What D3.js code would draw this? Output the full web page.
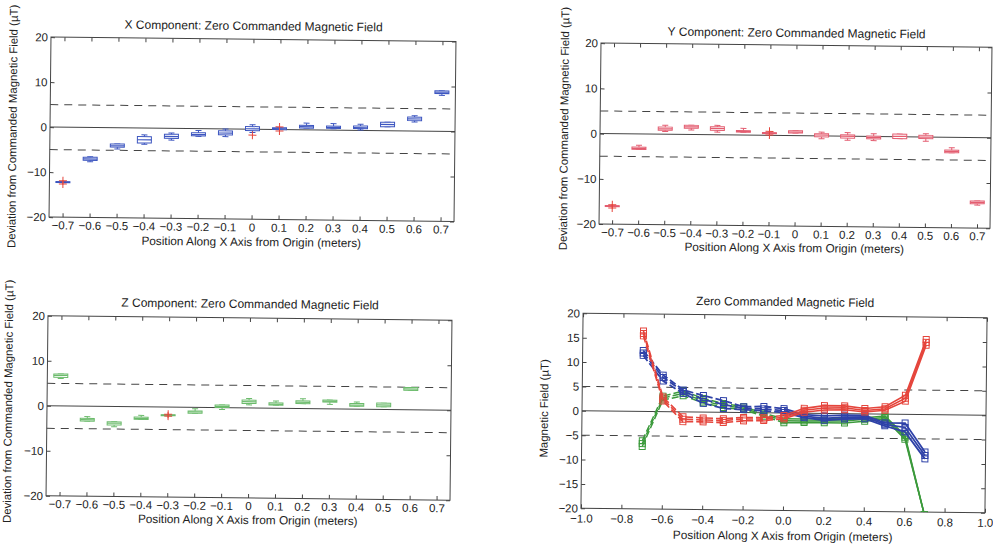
<!DOCTYPE html>
<html>
<head>
<meta charset="utf-8">
<script src="https://cdn.jsdelivr.net/npm/d3@7"></script>
<style>
  body { margin: 0; background: #fff; }
  text { font-family: "Liberation Sans", Arial, Helvetica, sans-serif; fill: #222; }
</style>
</head>
<body>
<div id="container"></div>
<script>
/* CONSTANTS AND GLOBALS */
const width = 993;
const height = 544;
const tilt = 0.62; // the scanned page is slightly rotated

/* DATA */
const positions = [-0.7, -0.6, -0.5, -0.4, -0.3, -0.2, -0.1, 0, 0.1, 0.2, 0.3, 0.4, 0.5, 0.6, 0.7];
const tickLabels = ["−0.7", "−0.6", "−0.5", "−0.4", "−0.3", "−0.2", "−0.1", "0", "0.1", "0.2", "0.3", "0.4", "0.5", "0.6", "0.7"];
const devTicks = [-20, -10, 0, 10, 20];
const limitLines = [-5, 5];

// X component deviation box stats
const xMed = [-12.2, -7.0, -4.0, -2.6, -1.8, -1.3, -0.9, 0.1, 0.2, 0.7, 0.6, 0.6, 1.4, 2.7, 8.7];
const xQ1  = [-12.3, -7.3, -4.3, -3.3, -2.2, -1.6, -1.3, -0.3, 0.0, 0.4, 0.4, 0.4, 0.9, 2.3, 8.4];
const xQ3  = [-12.1, -6.6, -3.6, -1.9, -1.3, -0.9, -0.4, 0.6, 0.4, 1.0, 0.9, 1.0, 1.9, 3.1, 9.0];
const xLo  = [-12.3, -7.6, -4.7, -3.6, -2.6, -1.7, -1.7, -0.7, 0.0, 0.4, 0.3, 0.1, 0.9, 2.0, 8.0];
const xHi  = [-12.1, -6.5, -3.6, -1.5, -1.0, -0.4, 0.0, 1.0, 0.4, 1.5, 1.45, 1.4, 1.9, 3.4, 9.0];
const xOut = [[-11.9, -12.6], [], [], [], [], [], [], [-1.3], [0.6, -0.3], [], [], [], [], [], []];

// Y component deviation box stats
const yMed = [-16.0, -3.2, 1.2, 1.7, 1.4, 0.8, 0.5, 0.8, 0.2, 0.0, -0.2, 0.1, 0.0, -3.1, -14.3];
const yQ1  = [-16.1, -3.4, 0.9, 1.4, 1.0, 0.65, 0.4, 0.6, -0.2, -0.4, -0.5, -0.4, -0.35, -3.4, -14.6];
const yQ3  = [-15.9, -2.9, 1.6, 2.05, 1.8, 1.0, 0.6, 1.1, 0.5, 0.3, 0.1, 0.6, 0.4, -2.8, -14.0];
const yLo  = [-16.1, -3.4, 0.6, 1.0, 0.6, 0.65, 0.4, 0.6, -0.6, -0.9, -0.9, -0.4, -0.9, -3.4, -14.9];
const yHi  = [-15.9, -2.5, 2.0, 2.05, 2.1, 1.5, 0.6, 1.1, 0.85, 0.8, 0.6, 0.6, 0.75, -2.3, -14.0];
const yOut = [[-15.7, -16.4], [], [], [], [], [], [0.9, 0.1], [], [], [], [], [], [], [], []];

// Z component deviation box stats (0.7 off scale)
const zMed = [6.8, -3.0, -3.7, -2.6, -1.8, -1.0, 0.3, 1.4, 0.9, 1.4, 1.7, 0.9, 1.0, 4.6, null];
const zQ1  = [6.35, -3.3, -4.1, -2.8, -1.9, -1.3, 0.05, 1.0, 0.7, 1.1, 1.5, 0.65, 0.6, 4.3, null];
const zQ3  = [7.1, -2.7, -3.4, -2.3, -1.7, -0.8, 0.6, 1.75, 1.2, 1.7, 1.95, 1.25, 1.4, 4.95, null];
const zLo  = [6.1, -3.3, -4.5, -2.8, -1.9, -1.3, -0.4, 0.7, 0.7, 1.1, 1.0, 0.65, 0.6, 4.3, null];
const zHi  = [7.1, -2.3, -3.4, -1.9, -1.7, -0.3, 0.6, 2.1, 1.6, 2.2, 1.95, 1.6, 1.4, 4.95, null];
const zOut = [[], [], [], [], [-1.6, -2.0], [], [], [], [], [], [], [], [], [], []];

// Measured field, three trials per component
const fieldX = [
  [12.5, 7.5, 4.5, 3.4, 2.4, 1.2, 1.3, 0.9, -0.3, -0.5, -0.3, -0.3, -1.8, -1.8, -7.7],
  [12.0, 7.0, 4.2, 2.6, 1.6, 0.9, 0.8, 0.5, -0.6, -1.0, -0.7, -0.6, -2.1, -2.7, -8.4],
  [11.5, 6.3, 3.8, 1.8, 0.8, 0.6, 0.4, 0.1, -0.9, -1.4, -1.1, -1.0, -2.4, -3.6, -9.1]
];
const fieldY = [
  [16.5, 3.0, -1.0, -1.2, -1.3, -1.0, -1.0, -0.5, 1.0, 1.6, 1.6, 1.1, 1.5, 3.9, 15.4],
  [16.0, 2.6, -1.5, -1.6, -1.7, -1.3, -1.3, -0.9, 0.6, 1.1, 1.2, 0.7, 1.1, 3.3, 14.8],
  [15.5, 2.2, -2.0, -2.0, -2.1, -1.7, -1.6, -1.2, 0.2, 0.7, 0.8, 0.4, 0.8, 2.7, 14.2]
];
const fieldZ = [
  [-6.0, 3.2, 4.3, 2.8, 1.8, 1.2, -0.1, -1.2, -1.2, -1.1, -1.0, -0.8, -0.4, -4.3, -20.5],
  [-6.6, 2.8, 3.8, 2.3, 1.4, 0.9, -0.4, -1.6, -1.6, -1.5, -1.5, -1.1, -0.7, -4.7, -20.5],
  [-7.2, 2.4, 3.3, 1.9, 1.0, 0.6, -0.7, -2.0, -1.9, -1.9, -1.9, -1.5, -1.0, -5.1, -20.5]
];
const fieldTicksX = [-1, -0.8, -0.6, -0.4, -0.2, 0, 0.2, 0.4, 0.6, 0.8, 1];
const fieldTicksY = [-20, -15, -10, -5, 0, 5, 10, 15, 20];

const blue = "#2f42a8", red = "#e5453c", green = "#3c9a3c";

/* HTML ELEMENTS */
const svg = d3.select("#container")
  .append("svg")
  .attr("width", width)
  .attr("height", height);

function styleAxis(sel) {
  sel.select(".domain").remove();
  sel.selectAll("line").attr("stroke", "#444");
  sel.selectAll("text")
    .attr("font-size", 11.5)
    .attr("font-family", "Liberation Sans, Arial, sans-serif")
    .attr("fill", "#222");
}

function frame(g, p, x, y, xTicks) {
  // reference lines at 0 and +/-5
  g.selectAll(".limit")
    .data(limitLines)
    .join("line")
    .attr("x1", p.left).attr("x2", p.right)
    .attr("y1", d => y(d)).attr("y2", d => y(d))
    .attr("stroke", "#444").attr("stroke-width", 1)
    .attr("stroke-dasharray", "8,6");
  g.append("line")
    .attr("x1", p.left).attr("x2", p.right)
    .attr("y1", y(0)).attr("y2", y(0))
    .attr("stroke", "#444").attr("stroke-width", 1);

  const bottom = d3.axisBottom(x).tickSizeInner(-4).tickSizeOuter(0).tickPadding(p.xPad || 4);
  const top = d3.axisTop(x).tickSizeInner(-4).tickSizeOuter(0).tickFormat("");
  const left = d3.axisLeft(y).tickSizeInner(-4).tickSizeOuter(0).tickPadding(3);
  const right = d3.axisRight(y).tickSizeInner(-4).tickSizeOuter(0).tickFormat("");
  if (xTicks) { bottom.tickValues(xTicks); top.tickValues(xTicks); }
  left.tickValues(p.yTicks); right.tickValues(p.yTicks);

  g.append("g").attr("transform", `translate(0,${p.bottom})`).call(bottom).call(styleAxis);
  g.append("g").attr("transform", `translate(0,${p.top})`).call(top).call(styleAxis);
  g.append("g").attr("transform", `translate(${p.left},0)`).call(left).call(styleAxis);
  g.append("g").attr("transform", `translate(${p.right},0)`).call(right).call(styleAxis);

  g.append("rect")
    .attr("x", p.left).attr("y", p.top)
    .attr("width", p.right - p.left).attr("height", p.bottom - p.top)
    .attr("fill", "none").attr("stroke", "#444");

  g.append("text")
    .attr("x", (p.left + p.right) / 2).attr("y", p.titleY)
    .attr("text-anchor", "middle").attr("font-size", 12)
    .text(p.title);
  g.append("text")
    .attr("x", (p.left + p.right) / 2).attr("y", p.xLabelY)
    .attr("text-anchor", "middle").attr("font-size", 11.8)
    .text("Position Along X Axis from Origin (meters)");
  g.append("text")
    .attr("transform", `translate(${p.yLabelX},${p.yLabelMid}) rotate(-90)`)
    .attr("text-anchor", "middle").attr("font-size", 11.4)
    .text(p.yLabel);
}

function boxPanel(p, med, q1, q3, lo, hi, out, color) {
  const g = svg.append("g")
    .attr("transform", `rotate(${tilt},${(p.left + p.right) / 2},${(p.top + p.bottom) / 2})`);

  const x = d3.scalePoint().domain(tickLabels).range([p.left, p.right]).padding(0.5);
  const y = d3.scaleLinear().domain([-20, 20]).range([p.bottom, p.top]);

  frame(g, p, x, y, null);

  const rows = tickLabels.map((k, i) => ({
    k, med: med[i], q1: q1[i], q3: q3[i], lo: lo[i], hi: hi[i], out: out[i]
  })).filter(d => d.med !== null);

  const boxW = 14, capW = 6;
  const b = g.selectAll(".box").data(rows).join("g").attr("class", "box");

  // whiskers and caps
  b.append("line")
    .attr("x1", d => x(d.k)).attr("x2", d => x(d.k))
    .attr("y1", d => y(d.lo)).attr("y2", d => y(d.hi))
    .attr("stroke", color).attr("stroke-width", 1);
  b.append("line")
    .attr("x1", d => x(d.k) - capW / 2).attr("x2", d => x(d.k) + capW / 2)
    .attr("y1", d => y(d.lo)).attr("y2", d => y(d.lo))
    .attr("stroke", color);
  b.append("line")
    .attr("x1", d => x(d.k) - capW / 2).attr("x2", d => x(d.k) + capW / 2)
    .attr("y1", d => y(d.hi)).attr("y2", d => y(d.hi))
    .attr("stroke", color);
  // box and median
  b.append("rect")
    .attr("x", d => x(d.k) - boxW / 2).attr("width", boxW)
    .attr("y", d => y(d.q3)).attr("height", d => Math.max(1, y(d.q1) - y(d.q3)))
    .attr("fill", "#fff").attr("stroke", color).attr("stroke-width", 1);
  b.append("line")
    .attr("x1", d => x(d.k) - boxW / 2).attr("x2", d => x(d.k) + boxW / 2)
    .attr("y1", d => y(d.med)).attr("y2", d => y(d.med))
    .attr("stroke", color).attr("stroke-width", 1.2);

  // outliers as red plus signs
  const pts = rows.flatMap(d => d.out.map(v => ({ k: d.k, v })));
  g.selectAll(".outH").data(pts).join("line")
    .attr("class", "outH")
    .attr("x1", d => x(d.k) - 4).attr("x2", d => x(d.k) + 4)
    .attr("y1", d => y(d.v)).attr("y2", d => y(d.v))
    .attr("stroke", red);
  g.selectAll(".outV").data(pts).join("line")
    .attr("class", "outV")
    .attr("x1", d => x(d.k)).attr("x2", d => x(d.k))
    .attr("y1", d => y(d.v) - 4).attr("y2", d => y(d.v) + 4)
    .attr("stroke", red);
}

const devLabel = "Deviation from Commanded Magnetic Field (µT)";

boxPanel({ left: 50, right: 455, top: 39.3, bottom: 219.3, yTicks: devTicks,
  title: "X Component: Zero Commanded Magnetic Field", titleY: 30, xLabelY: 246,
  yLabel: devLabel, yLabelX: 16.5, yLabelMid: 129 },
  xMed, xQ1, xQ3, xLo, xHi, xOut, "#3d56c0");

boxPanel({ left: 600, right: 991, top: 45.2, bottom: 226.2, yTicks: devTicks,
  title: "Y Component: Zero Commanded Magnetic Field", titleY: 37, xLabelY: 252,
  yLabel: devLabel, yLabelX: 568, yLabelMid: 131 },
  yMed, yQ1, yQ3, yLo, yHi, yOut, "#e35d70");

boxPanel({ left: 47, right: 451, top: 318, bottom: 498, yTicks: devTicks,
  title: "Z Component: Zero Commanded Magnetic Field", titleY: 308, xLabelY: 524,
  yLabel: devLabel, yLabelX: 12, yLabelMid: 404 },
  zMed, zQ1, zQ3, zLo, zHi, zOut, "#6cbb6c");

/* FIELD PANEL */
(function () {
  const p = { left: 582, right: 986, top: 315.5, bottom: 510.5, yTicks: fieldTicksY, xPad: 6,
    title: "Zero Commanded Magnetic Field", titleY: 306, xLabelY: 540,
    yLabel: "Magnetic Field (µT)", yLabelX: 548, yLabelMid: 411 };
  const g = svg.append("g")
    .attr("transform", `rotate(${tilt},${(p.left + p.right) / 2},${(p.top + p.bottom) / 2})`);
  const x = d3.scaleLinear().domain([-1, 1]).range([p.left, p.right]);
  const y = d3.scaleLinear().domain([-20, 20]).range([p.bottom, p.top]);

  g.append("clipPath").attr("id", "clip4").append("rect")
    .attr("x", p.left).attr("y", p.top)
    .attr("width", p.right - p.left).attr("height", p.bottom - p.top);

  frame(g, p, x, y, fieldTicksX);

  const plot = g.append("g").attr("clip-path", "url(#clip4)");
  const line = d3.line().x(d => x(d[0])).y(d => y(d[1]));
  const series = [
    { trials: fieldZ, color: green, w: 1.5 },
    { trials: fieldX, color: blue, w: 1.8 },
    { trials: fieldY, color: red, w: 1.6 }
  ];
  series.forEach(s => {
    s.trials.forEach(t => {
      const pts = positions.map((px, i) => [px, t[i]]);
      // negative side dashed, positive side solid
      plot.append("path").datum(pts.slice(0, 8))
        .attr("d", line).attr("fill", "none")
        .attr("stroke", s.color).attr("stroke-width", s.w)
        .attr("stroke-dasharray", "7,3");
      plot.append("path").datum(pts.slice(7))
        .attr("d", line).attr("fill", "none")
        .attr("stroke", s.color).attr("stroke-width", s.w);
      plot.selectAll(null).data(pts).join("rect")
        .attr("x", d => x(d[0]) - 3).attr("y", d => y(d[1]) - 3)
        .attr("width", 6).attr("height", 6)
        .attr("fill", "none").attr("stroke", s.color).attr("stroke-width", 1);
    });
  });
})();
</script>
</body>
</html>
